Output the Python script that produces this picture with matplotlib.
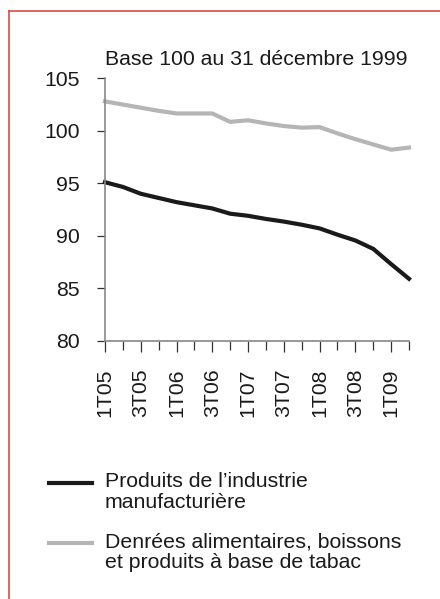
import matplotlib
matplotlib.use("Agg")
import matplotlib.pyplot as plt
from matplotlib.lines import Line2D

plt.rcParams['font.family'] = ['Liberation Sans', 'DejaVu Sans']

quarters = ["1T05", "2T05", "3T05", "4T05", "1T06", "2T06", "3T06", "4T06",
            "1T07", "2T07", "3T07", "4T07", "1T08", "2T08", "3T08", "4T08",
            "1T09", "2T09"]
manuf = [95.1, 94.65, 94.0, 93.6, 93.2, 92.9, 92.6, 92.1, 91.9, 91.6,
         91.35, 91.05, 90.7, 90.1, 89.55, 88.75, 87.3, 85.9]
food = [102.8, 102.5, 102.2, 101.9, 101.65, 101.65, 101.65, 100.85, 101.0, 100.7,
        100.45, 100.3, 100.35, 99.75, 99.2, 98.7, 98.2, 98.4]
labels = ["Produits de l\u2019industrie\nmanufacturière",
          "Denrées alimentaires, boissons\net produits à base de tabac"]
colors = ["#1a1a1a", "#b5b5b5"]
title = "Base 100 au 31 décembre 1999"
yticks = [80, 85, 90, 95, 100, 105]

FS = 15.3
W, H = 440, 599
fig = plt.figure(figsize=(W / 100, H / 100), dpi=100)
ax = fig.add_axes([105 / W, 1 - 340.7 / H, (409 - 105) / W, (340.7 - 78.3) / H])

x = list(range(len(quarters)))
for series, c in zip([manuf, food], colors):
    ax.plot(x, series, color=c, lw=3.0, solid_joinstyle='miter', clip_on=False)

ax.set_xlim(0, len(quarters) - 1)
ax.set_ylim(80, 105)
ax.set_yticks(yticks)
ax.set_yticklabels([str(v) for v in yticks])
ax.set_xticks(x[::2])
ax.set_xticklabels(quarters[::2], rotation=90)
ax.set_xticks(x[1::2], minor=True)

for s in ['top', 'right']:
    ax.spines[s].set_visible(False)
for s in ['left', 'bottom']:
    ax.spines[s].set_color('#888888')
    ax.spines[s].set_linewidth(1.2)

ax.tick_params(axis='y', direction='out', length=6, width=0.9, color='#333333',
               labelsize=FS, pad=12, labelcolor='#1a1a1a')
ax.tick_params(axis='x', which='major', direction='out', length=8, width=0.9,
               color='#333333', labelsize=FS, pad=12, labelcolor='#1a1a1a')
ax.tick_params(axis='x', which='minor', direction='out', length=6.5, width=0.9,
               color='#333333')

fig.text(256 / W, 1 - 65 / H, title, ha='center', va='baseline', fontsize=FS,
         color='#1a1a1a')

# legend
leg_y = [483, 543]
for lab, c, yy in zip(labels, colors, leg_y):
    fig.add_artist(Line2D([49 / W, 92 / W], [1 - yy / H, 1 - yy / H], color=c, lw=3.0,
                          transform=fig.transFigure))
    fig.text(105 / W, 1 - (yy - 11) / H, lab, ha='left', va='top', fontsize=FS,
             linespacing=1.15, color='#1a1a1a')

# red frame (top and left)
fig.add_artist(Line2D([8.5 / W, 1.0], [1 - 10.5 / H, 1 - 10.5 / H], color='#dc4a45',
                      lw=1.2, transform=fig.transFigure))
fig.add_artist(Line2D([8.5 / W, 8.5 / W], [0, 1 - 10.5 / H], color='#dc4a45',
                      lw=1.2, transform=fig.transFigure))

fig.savefig("out.png", dpi=100)
